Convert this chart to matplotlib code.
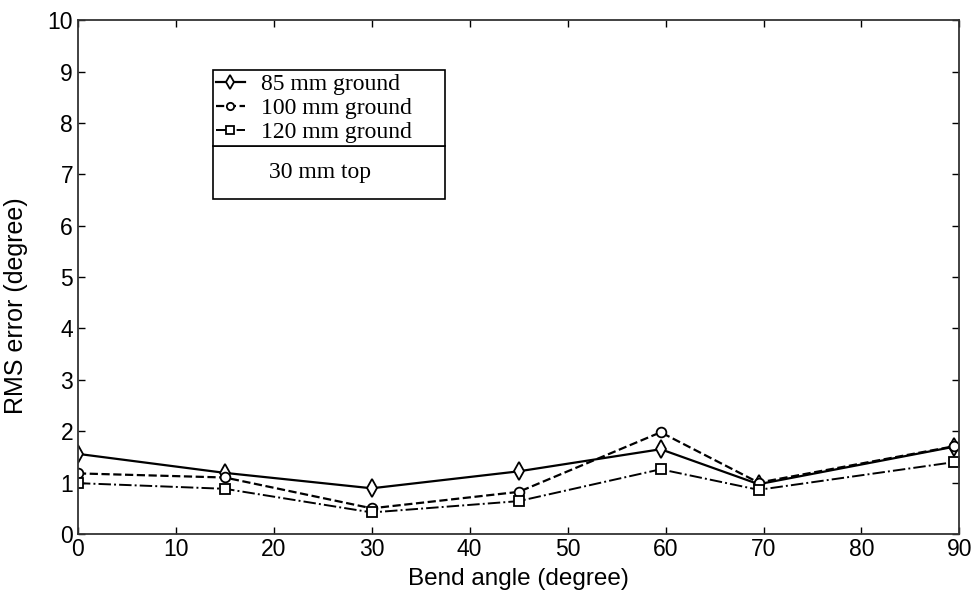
import matplotlib
matplotlib.use("Agg")
import matplotlib.pyplot as plt
import matplotlib.patches as patches

# Bend angles (degree)
angles = [0, 15, 30, 45, 59.5, 69.5, 89.5]

# RMS error (degree) for each ground length
rms_85 = [1.56, 1.19, 0.89, 1.22, 1.65, 0.97, 1.70]
rms_100 = [1.18, 1.10, 0.50, 0.82, 1.98, 1.00, 1.71]
rms_120 = [0.99, 0.88, 0.42, 0.64, 1.26, 0.86, 1.40]

labels = ["85 mm ground", "100 mm ground", "120 mm ground"]
note = "30 mm top"

xticks = [0, 10, 20, 30, 40, 50, 60, 70, 80, 90]
yticks = list(range(0, 11))

plt.rcParams['font.family'] = ['Liberation Sans', 'DejaVu Sans']

fig = plt.figure(figsize=(9.74, 5.95), dpi=100)
ax = fig.add_axes([0.080, 0.1025, 0.905, 0.8635])

# Plot the three series
ax.plot(angles, rms_85, color='black', linestyle='-', linewidth=1.6,
        marker='d', markersize=9, markerfacecolor='white', markeredgewidth=1.3, label=labels[0])
ax.plot(angles, rms_100, color='black', linestyle='--', linewidth=1.6,
        marker='o', markersize=7, markerfacecolor='white', markeredgewidth=1.3, label=labels[1])
ax.plot(angles, rms_120, color='black', linestyle='-.', linewidth=1.4,
        marker='s', markersize=7, markerfacecolor='white', markeredgewidth=1.3, label=labels[2])

ax.set_xlim(0, 90)
ax.set_ylim(0, 10)
ax.set_xticks(xticks)
ax.set_yticks(yticks)
ax.tick_params(direction='in', length=5, width=1, top=True, right=True,
               labelsize=16.5, colors='black')
ax.tick_params(axis='x', pad=3)
for s in ax.spines.values():
    s.set_linewidth(1.3)
    s.set_color('#333333')

ax.set_xlabel("Bend angle (degree)", fontsize=17.5, labelpad=5)
ax.set_ylabel("RMS error (degree)", fontsize=18)
ax.yaxis.set_label_coords(-0.057, 0.444)

# Legend box with a separate note section below it
leg_x0, leg_w = 0.153, 0.264
leg_top, leg_div, leg_bot = 0.903, 0.751, 0.652
leg = ax.legend(loc='upper left', bbox_to_anchor=(leg_x0, leg_div, leg_w, leg_top - leg_div),
                mode='expand', fancybox=False, edgecolor='black', framealpha=1,
                prop={'family': 'Liberation Serif', 'size': 17},
                handlelength=1.2, handletextpad=0.7, borderpad=0.15, labelspacing=0.1,
                borderaxespad=0, markerscale=0.75)
leg.get_frame().set_linewidth(1.2)

# note box starts where the legend frame ends
fig.canvas.draw()
bb = leg.get_window_extent().transformed(ax.transAxes.inverted())
leg_div = bb.y0

rect = patches.Rectangle((leg_x0, leg_bot), leg_w, leg_div - leg_bot, transform=ax.transAxes,
                         linewidth=1.2, edgecolor='black', facecolor='white', zorder=5)
ax.add_patch(rect)
ax.text(leg_x0 + leg_w * 0.46, (leg_div + leg_bot) / 2, note, transform=ax.transAxes,
        ha='center', va='center', fontsize=17, family='Liberation Serif', zorder=6)

fig.savefig("out.png", dpi=100)
